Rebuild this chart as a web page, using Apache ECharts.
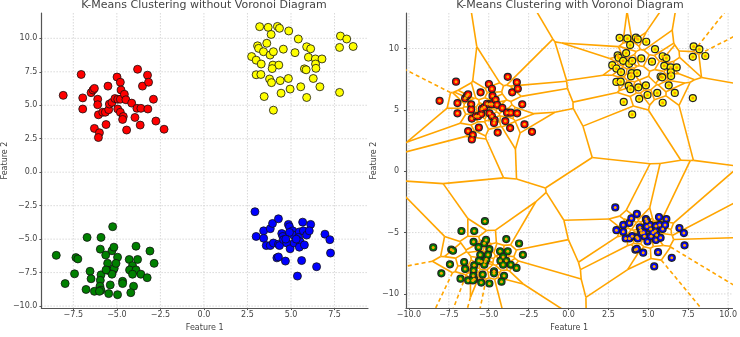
<!DOCTYPE html>
<html><head><meta charset="utf-8">
<script src="https://cdn.jsdelivr.net/npm/echarts@6/dist/echarts.min.js"></script>
<style>html,body{margin:0;padding:0;background:#fff}#c{width:740px;height:337px}</style>
</head><body><div id="c"></div>
<script>
// ---- data ----
const clusterRed = [[-8.08,5.74],[-7.05,7.30],[-6.96,5.55],[-6.96,4.72],[-6.48,5.94],[-6.37,6.14],[-6.29,6.26],[-6.10,5.45],[-6.10,5.04],[-6.06,4.29],[-6.29,3.27],[-6.00,2.95],[-6.06,2.59],[-5.62,3.56],[-5.81,4.48],[-5.66,4.48],[-5.47,4.67],[-5.51,6.43],[-5.43,5.09],[-5.28,5.21],[-4.99,7.11],[-4.80,6.72],[-4.76,6.14],[-5.11,5.50],[-4.95,5.45],[-4.80,5.45],[-4.57,5.82],[-4.48,5.41],[-4.95,4.72],[-4.80,4.48],[-4.63,4.16],[-4.67,3.94],[-4.44,3.15],[-4.15,5.16],[-3.96,4.09],[-3.85,4.77],[-3.81,7.69],[-3.53,6.43],[-3.24,7.25],[-3.18,6.72],[-3.62,4.77],[-3.22,4.72],[-3.66,3.52],[-2.90,5.45],[-2.76,3.82],[-2.29,3.21]];
const clusterYellow = [[3.20,10.87],[3.69,10.82],[4.22,10.89],[4.34,10.75],[3.86,10.29],[4.87,10.55],[5.42,9.95],[7.84,10.17],[8.20,9.95],[8.57,9.39],[7.79,9.32],[3.61,9.63],[3.08,9.44],[3.14,9.25],[3.42,9.00],[3.80,8.75],[3.99,9.00],[4.56,9.19],[5.23,8.93],[5.90,9.37],[6.13,9.22],[2.74,8.64],[3.00,8.37],[3.29,8.08],[3.96,8.00],[4.30,8.00],[3.92,7.74],[5.77,7.72],[5.87,7.65],[6.00,8.59],[6.40,8.46],[6.78,8.46],[6.41,8.08],[6.43,7.76],[3.00,7.28],[3.27,7.30],[3.77,6.96],[3.88,6.69],[4.38,6.84],[4.85,7.00],[5.56,6.38],[6.28,7.00],[6.66,6.38],[4.95,6.21],[4.43,5.90],[3.46,5.65],[5.90,5.58],[7.79,5.96],[3.99,4.63]];
const clusterGreen = [[-8.48,-6.21],[-7.97,-8.32],[-7.43,-7.59],[-7.35,-6.38],[-7.24,-6.48],[-6.71,-4.87],[-5.91,-4.87],[-5.24,-4.07],[-5.95,-5.75],[-5.28,-5.87],[-5.17,-5.60],[-5.64,-6.19],[-4.96,-6.35],[-5.53,-6.81],[-6.54,-7.40],[-6.48,-7.96],[-5.91,-7.67],[-5.47,-7.35],[-5.22,-7.35],[-5.15,-7.18],[-5.05,-6.81],[-5.28,-7.62],[-5.62,-7.30],[-5.95,-8.08],[-5.97,-8.52],[-5.91,-8.81],[-6.77,-8.76],[-6.29,-8.90],[-6.00,-8.90],[-5.47,-9.07],[-4.96,-9.15],[-5.38,-8.42],[-4.67,-8.15],[-4.67,-8.32],[-4.29,-6.52],[-4.10,-6.98],[-3.81,-6.52],[-4.27,-7.30],[-3.90,-7.30],[-4.10,-7.62],[-3.62,-7.62],[-3.90,-5.53],[-3.10,-5.89],[-2.86,-6.81],[-3.26,-7.88],[-4.04,-8.52],[-4.20,-9.00]];
const clusterBlue = [[2.93,-2.95],[3.00,-4.80],[3.43,-4.38],[3.43,-4.94],[3.58,-5.48],[3.81,-5.48],[3.81,-4.22],[3.94,-3.83],[4.28,-3.48],[3.99,-5.29],[4.28,-5.38],[4.34,-5.48],[4.47,-4.58],[4.53,-4.80],[4.57,-5.04],[4.85,-3.90],[4.91,-4.07],[4.76,-5.29],[4.95,-5.72],[5.10,-4.38],[5.14,-4.70],[5.18,-5.29],[5.48,-4.46],[5.44,-4.87],[5.52,-5.19],[5.48,-5.60],[5.67,-3.73],[5.71,-4.38],[5.90,-4.70],[6.13,-3.90],[6.05,-4.38],[5.77,-5.43],[6.95,-4.63],[7.23,-5.04],[7.27,-6.04],[4.19,-6.40],[4.28,-6.33],[4.68,-6.64],[5.61,-6.60],[6.47,-7.06],[5.37,-7.76],[4.91,-4.50],[4.70,-5.00],[5.30,-5.00]];
const clusterColors = ['#ff0000','#ffff00','#008000','#0000ff'];
const leftXTicks = [-7.5,-5,-2.5,0,2.5,5,7.5];
const leftYTicks = [-10,-7.5,-5,-2.5,0,2.5,5,7.5,10];
const rightXTicks = [-10,-7.5,-5,-2.5,0,2.5,5,7.5,10];
const rightYTicks = [-10,-5,0,5,10];
const titles = ['K-Means Clustering without Voronoi Diagram','K-Means Clustering with Voronoi Diagram'];
const axisNames = ['Feature 1','Feature 2'];

// ---- derived ----
const clusters = [clusterRed, clusterYellow, clusterGreen, clusterBlue];
const allPts = [].concat(...clusters);
const xs = allPts.map(p=>p[0]), ys = allPts.map(p=>p[1]);
const xMin = Math.min(...xs), xMax = Math.max(...xs), yMin = Math.min(...ys), yMax = Math.max(...ys);
const ptpX = xMax - xMin, ptpY = yMax - yMin;

function voronoiSegments(pts){
  const n = pts.length;
  const dm = Math.max(ptpX, ptpY), mx = (xMin+xMax)/2, my = (yMin+yMax)/2;
  const P = pts.map(p=>[p[0],p[1]]);
  P.push([mx-200*dm, my-200*dm]); P.push([mx, my+200*dm]); P.push([mx+200*dm, my-200*dm]);
  function circ(a,b,c){
    const [ax,ay]=P[a],[bx,by]=P[b],[cx,cy]=P[c];
    const d = 2*(ax*(by-cy)+bx*(cy-ay)+cx*(ay-by));
    const A=ax*ax+ay*ay,B=bx*bx+by*by,C=cx*cx+cy*cy;
    const ux=(A*(by-cy)+B*(cy-ay)+C*(ay-by))/d;
    const uy=(A*(cx-bx)+B*(ax-cx)+C*(bx-ax))/d;
    return {a,b,c,x:ux,y:uy,r2:(ax-ux)*(ax-ux)+(ay-uy)*(ay-uy)};
  }
  let tris=[circ(n,n+1,n+2)];
  for(let i=0;i<n;i++){
    const px=P[i][0],py=P[i][1];
    const bad=[],keep=[];
    for(const t of tris){((px-t.x)*(px-t.x)+(py-t.y)*(py-t.y)<t.r2?bad:keep).push(t);}
    const em=new Map();
    for(const t of bad){for(const [u,v] of [[t.a,t.b],[t.b,t.c],[t.c,t.a]]){
      const k=u<v?u+','+v:v+','+u; const e=em.get(k); if(e)e.cnt++; else em.set(k,{u,v,cnt:1});}}
    tris=keep;
    for(const e of em.values()) if(e.cnt===1) tris.push(circ(e.u,e.v,i));
  }
  tris=tris.filter(t=>t.a<n&&t.b<n&&t.c<n);
  const edges=new Map();
  tris.forEach((t,ti)=>{for(const [u,v] of [[t.a,t.b],[t.b,t.c],[t.c,t.a]]){
    const k=u<v?u+','+v:v+','+u; if(!edges.has(k))edges.set(k,{u:Math.min(u,v),v:Math.max(u,v),t:[]}); edges.get(k).t.push(ti);}});
  const cx = xs.reduce((s,v)=>s+v,0)/n, cy = ys.reduce((s,v)=>s+v,0)/n;
  const ptpMax=Math.max(ptpX,ptpY), aspect=Math.abs(ptpMax/Math.min(ptpX,ptpY));
  const segs=[];
  for(const e of edges.values()){
    if(e.t.length===2){const t1=tris[e.t[0]],t2=tris[e.t[1]]; segs.push([t1.x,t1.y,t2.x,t2.y,0]);}
    else{
      const t=tris[e.t[0]];
      let tx=P[e.v][0]-P[e.u][0], ty=P[e.v][1]-P[e.u][1]; const L=Math.hypot(tx,ty); tx/=L; ty/=L;
      const nx=-ty, ny=tx;
      const midx=(P[e.u][0]+P[e.v][0])/2, midy=(P[e.u][1]+P[e.v][1])/2;
      const s=Math.sign((midx-cx)*nx+(midy-cy)*ny);
      segs.push([t.x,t.y,t.x+s*nx*ptpMax*aspect,t.y+s*ny*ptpMax*aspect,1]);
    }
  }
  return segs;
}
const vorSegs = voronoiSegments(allPts);

const FONT='DejaVu Sans', TXT='#444';
const minus = s => String(s).replace('-', '\u2212');
function xAxisCfg(idx, min, max, ticks, fmt, margin){
  return {type:'value', gridIndex:idx, min, max, name:axisNames[0], nameLocation:'middle', nameGap:12,
    nameTextStyle:{fontFamily:FONT,fontSize:8,color:TXT},
    axisLine:{show:true,onZero:false,lineStyle:{color:'#555',width:1.2}},
    axisTick:{show:true,length:2,customValues:ticks,lineStyle:{color:'#555'}},
    axisLabel:{customValues:ticks,margin,fontFamily:FONT,fontSize:8,color:TXT,formatter:v=>minus(fmt(v))},
    splitLine:{show:false}};
}
function yAxisCfg(idx, min, max, ticks, fmt, margin, gap){
  return {type:'value', gridIndex:idx, min, max, name:axisNames[1], nameLocation:'middle', nameGap:gap,
    nameTextStyle:{fontFamily:FONT,fontSize:8,color:TXT},
    axisLine:{show:true,onZero:false,lineStyle:{color:'#555',width:1.2}},
    axisTick:{show:true,length:2,customValues:ticks,lineStyle:{color:'#555'}},
    axisLabel:{customValues:ticks,margin,fontFamily:FONT,fontSize:8,color:TXT,formatter:v=>minus(fmt(v))},
    splitLine:{show:false}};
}
const f1 = v=>(+v).toFixed(1), f0 = v=>String(Math.round(v));

// grid lines drawn from the tick arrays through the axes' scales
function gridSeries(idx, xt, yt){
  const data = xt.map(v=>[v,0,0]).concat(yt.map(v=>[0,v,1]));
  return {type:'custom',xAxisIndex:idx,yAxisIndex:idx,data,z:0,silent:true,clip:false,
    renderItem:(params,api)=>{
      const cs=params.coordSys; const p=api.coord([api.value(0),api.value(1)]);
      const shape = api.value(2)===0 ? {x1:p[0],y1:cs.y,x2:p[0],y2:cs.y+cs.height}
                                      : {x1:cs.x,y1:p[1],x2:cs.x+cs.width,y2:p[1]};
      return {type:'line',shape,style:{stroke:'#cfcfcf',lineWidth:0.8,lineDash:[1.5,1.5],fill:null}};
    }};
}

const series=[gridSeries(0,leftXTicks,leftYTicks), gridSeries(1,rightXTicks,rightYTicks)];
clusters.forEach((c,i)=>series.push({type:'scatter',xAxisIndex:0,yAxisIndex:0,data:c,symbolSize:8,z:3,
  itemStyle:{color:clusterColors[i],borderColor:'#111',borderWidth:0.8,opacity:1}}));
series.push({type:'custom',xAxisIndex:1,yAxisIndex:1,data:vorSegs,clip:true,z:2,silent:true,
  encode:{x:[0,2],y:[1,3]},
  renderItem:(params,api)=>{
    const a=api.coord([api.value(0),api.value(1)]), b=api.coord([api.value(2),api.value(3)]);
    return {type:'line',shape:{x1:a[0],y1:a[1],x2:b[0],y2:b[1]},
      style:{stroke:'#ffa500',lineWidth:1.6,lineDash:api.value(4)?[4,3]:null,fill:null}};
  }});
clusters.forEach((c,i)=>series.push({type:'scatter',xAxisIndex:1,yAxisIndex:1,data:c,symbolSize:7,z:3,
  itemStyle:{color:clusterColors[i],borderColor:'#222',borderWidth:1.2,opacity:1}}));
series.push({type:'scatter',xAxisIndex:1,yAxisIndex:1,data:allPts,symbolSize:3,z:4,
  itemStyle:{color:'#ffa500',opacity:1}});

const option={
  animation:false,
  title:[
    {text:titles[0],left:204,top:0,padding:0,textAlign:'center',textStyle:{fontFamily:FONT,fontSize:11,fontWeight:'normal',color:TXT}},
    {text:titles[1],left:570,top:0,padding:0,textAlign:'center',textStyle:{fontFamily:FONT,fontSize:11,fontWeight:'normal',color:TXT}}
  ],
  grid:[{left:41,top:13,width:327,height:302},{left:406,top:13,width:329,height:302}],
  xAxis:[xAxisCfg(0,xMin-0.05*ptpX,xMax+0.05*ptpX,leftXTicks,f1,3),
         xAxisCfg(1,xMin-0.1*ptpX,xMax+0.1*ptpX,rightXTicks,f1,3)],
  yAxis:[yAxisCfg(0,yMin-0.05*ptpY,yMax+0.05*ptpY,leftYTicks,f1,4,31),
         yAxisCfg(1,yMin-0.1*ptpY,yMax+0.1*ptpY,rightYTicks,f0,7,22)],
  series
};
const chart=echarts.init(document.getElementById('c'),null,{renderer:'canvas'});
chart.setOption(option);
</script></body></html>
